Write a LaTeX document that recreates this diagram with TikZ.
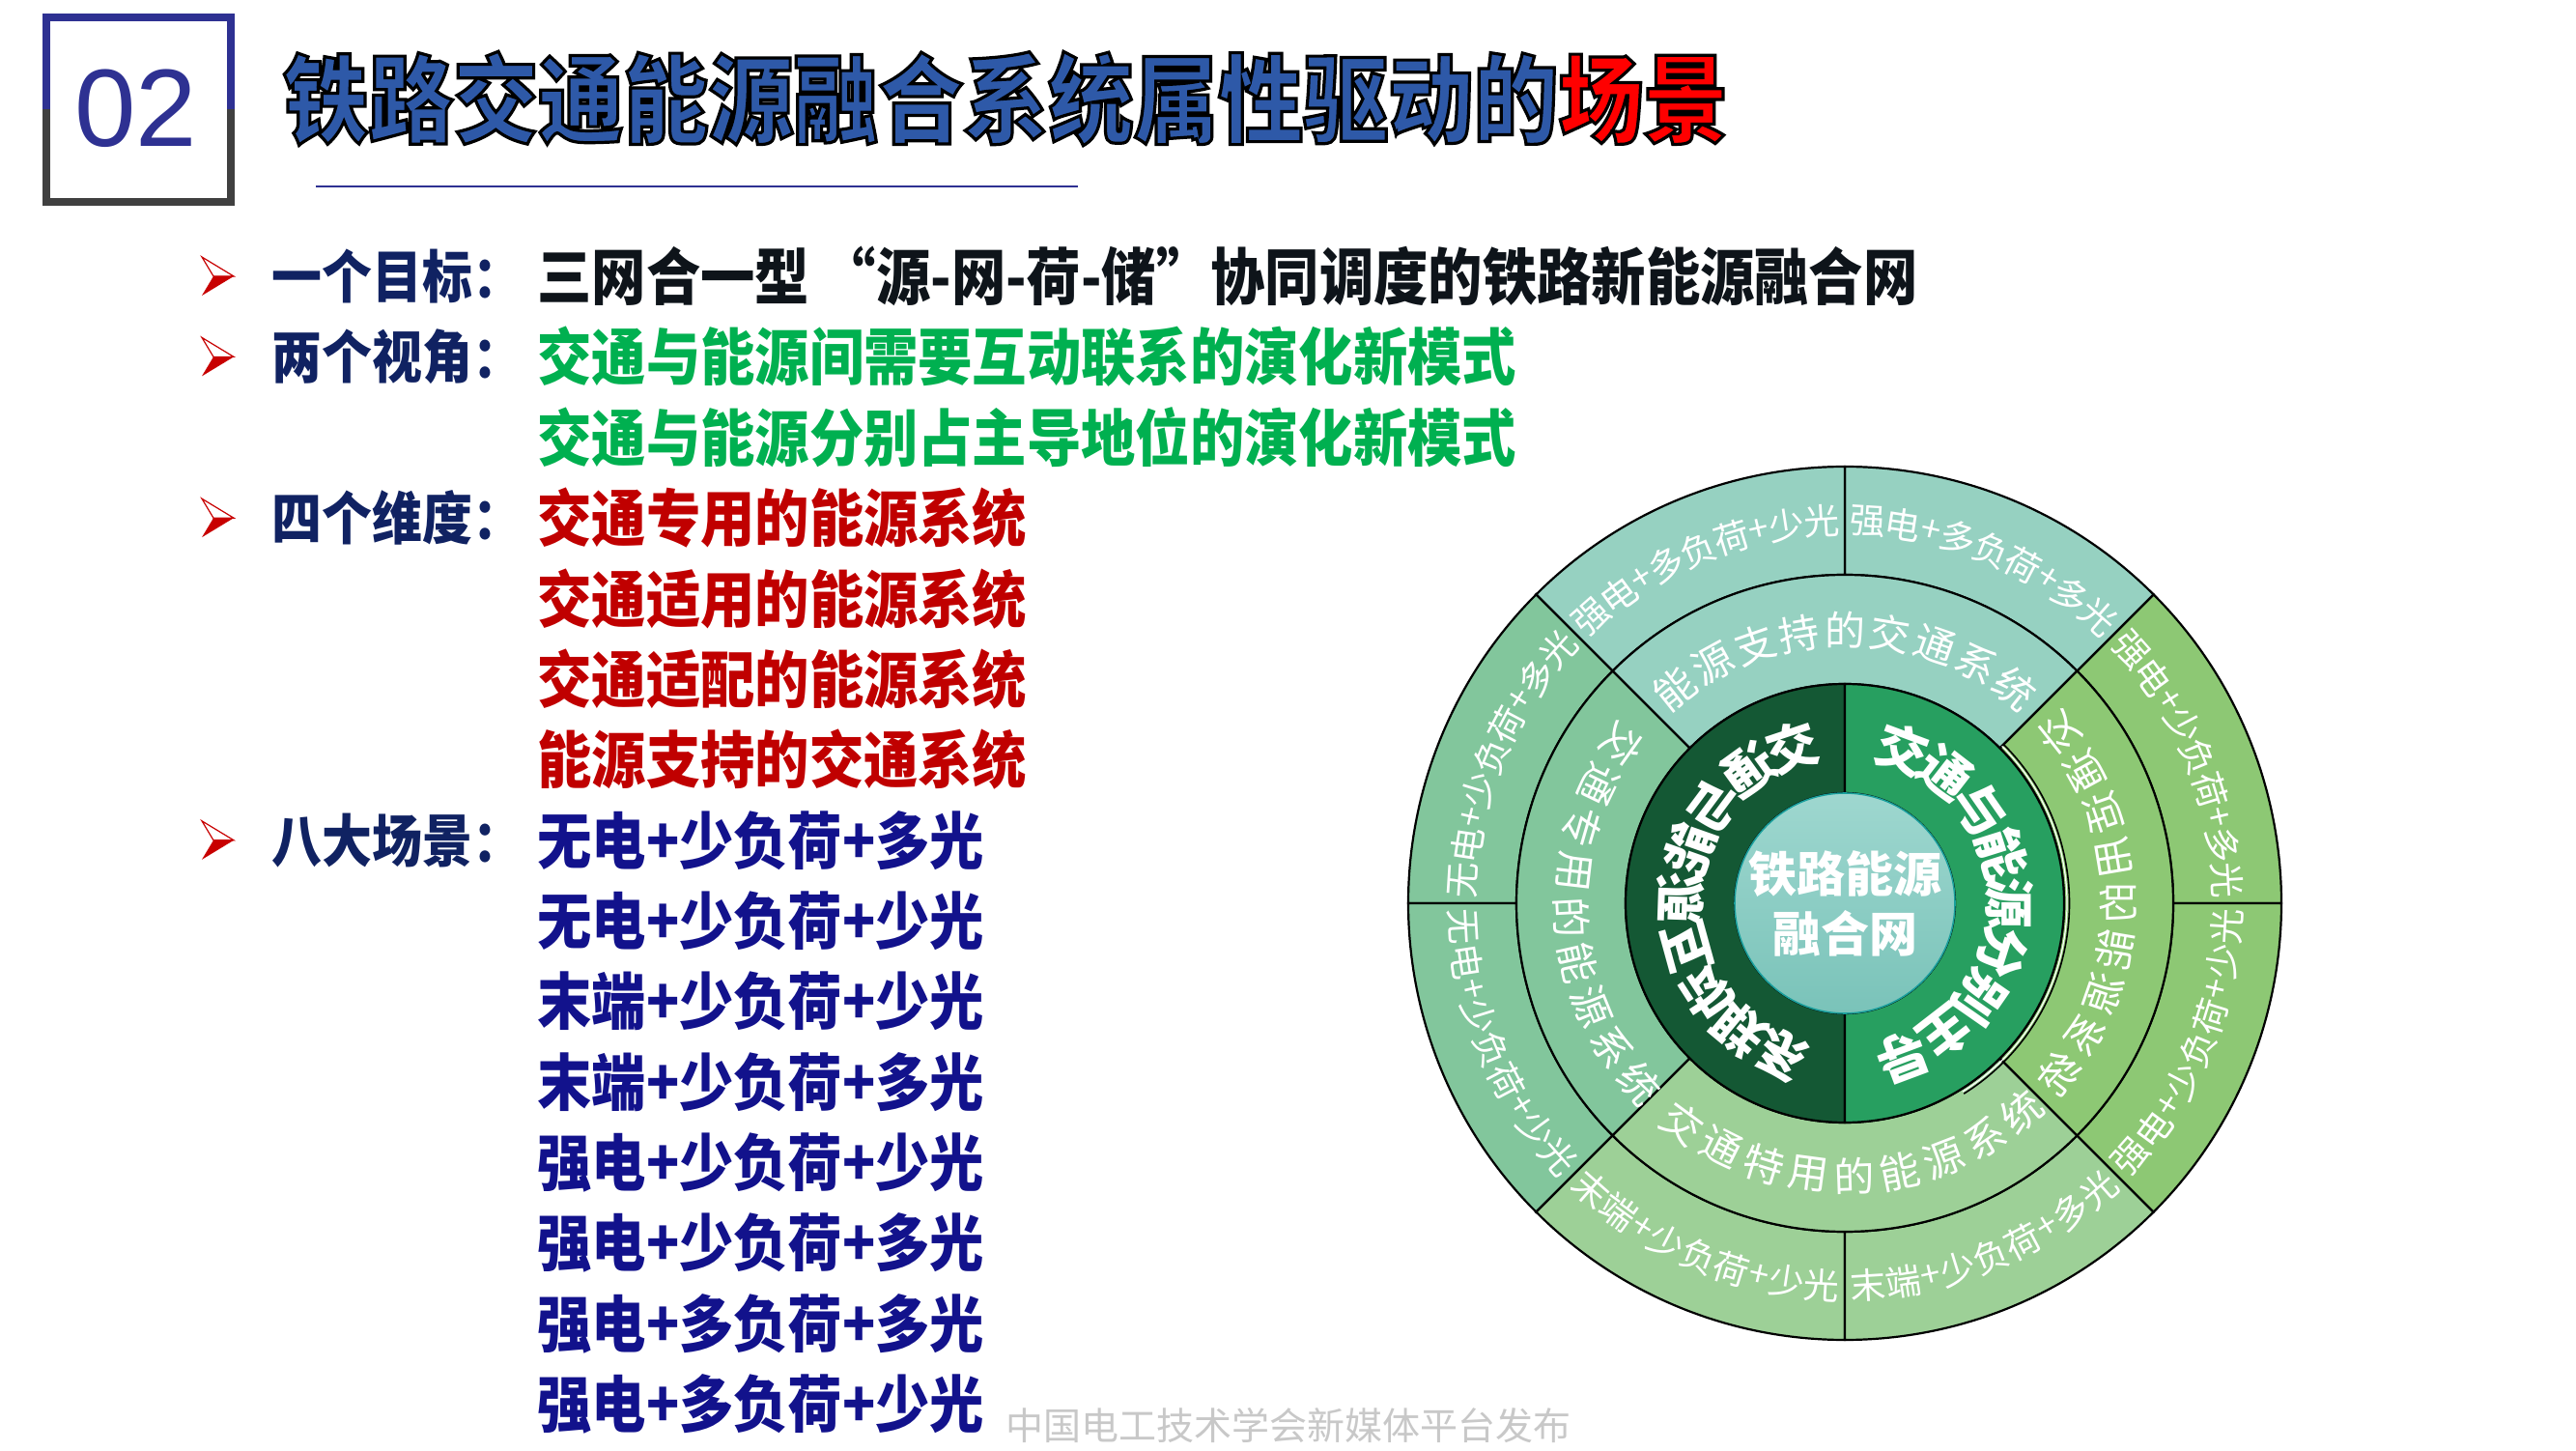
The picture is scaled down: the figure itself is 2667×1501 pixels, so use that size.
\documentclass[tikz,border=0pt]{standalone}
\usepackage{fontspec}
\setmainfont{Noto Sans CJK SC}
\newfontfamily\cjk{Noto Sans CJK SC}
\newfontfamily\cjknarrow[FakeStretch=0.88]{Noto Sans CJK SC}
\newfontfamily\numfont{Liberation Sans}
\usetikzlibrary{positioning}

\definecolor{boxnavy}{RGB}{46,49,146}
\definecolor{boxgray}{RGB}{64,64,64}
\definecolor{titleblue}{RGB}{46,89,168}
\definecolor{titlered}{RGB}{255,0,0}
\definecolor{labelnavy}{RGB}{16,34,98}
\definecolor{goalblack}{RGB}{14,20,26}
\definecolor{viewgreen}{RGB}{0,176,80}
\definecolor{dimred}{RGB}{192,0,0}
\definecolor{scenblue}{RGB}{18,18,140}
\definecolor{bulletred}{RGB}{200,0,0}
\definecolor{markgray}{RGB}{200,200,200}
\definecolor{ringteal}{RGB}{150,209,193}
\definecolor{ringleft}{RGB}{130,198,156}
\definecolor{ringbottom}{RGB}{157,208,151}
\definecolor{ringright}{RGB}{141,200,116}
\definecolor{darkleft}{RGB}{20,88,52}
\definecolor{darkright}{RGB}{39,159,96}
\definecolor{hubtop}{RGB}{158,215,207}
\definecolor{hubbottom}{RGB}{122,195,185}
\definecolor{hubrim}{RGB}{26,160,156}

% ring pieces
\newcommand\sector[5]{\filldraw[sectorline, fill=#1] (#4:#2) -- (#4:#3) arc[start angle=#4, end angle=#5, radius=#3] -- (#5:#2) arc[start angle=#5, end angle=#4, radius=#2] -- cycle;}

% characters set one by one along a circle (widths in picture units)
\newcount\arcn
\def\arcloop#1{\ifx#1\relax\else\arcact{#1}\expandafter\arcloop\fi}
\def\arcwidth#1{\if#1+\let\arcwd\arcplus\else\let\arcwd\arcstep\fi}
\def\arcmeasure#1{\arcwidth{#1}\pgfmathsetmacro\arcnext{\arcpos+\arcwd}\global\let\arcpos\arcnext}
\def\arcplace#1{\arcwidth{#1}%
  \pgfmathsetmacro\arcang{\arcmid-(\arcdir)*(\arcpos+0.5*\arcwd)/\arcR*57.29578}%
  \pgfmathsetmacro\arcrot{\arcang-90*(\arcdir)}%
  \global\advance\arcn by 1
  \node[arcchar, rotate=\arcrot] (glyph\the\arcn) at (\arcang:\arcR) {\arcfont#1};%
  \pgfmathsetmacro\arcnext{\arcpos+\arcwd}\global\let\arcpos\arcnext}
\newcommand\arctext[7]{% radius, middle angle, 1 = clockwise / -1 = anticlockwise, step, step of +, font, text
  \def\arcR{#1}\def\arcmid{#2}\def\arcdir{#3}\def\arcstep{#4}\def\arcplus{#5}\def\arcfont{#6}%
  \gdef\arcpos{0}\let\arcact\arcmeasure\arcloop#7\relax
  \pgfmathsetmacro\arcnext{-0.5*\arcpos}\global\let\arcpos\arcnext
  \let\arcact\arcplace\arcloop#7\relax}

\def\outerfont{\cjk\fontsize{18.5}{19}\selectfont}
\def\dimfont{\cjk\fontsize{21}{22}\selectfont}
\def\darkfont{\cjk\bfseries\fontsize{26.5}{27}\selectfont}

\begin{document}
\begin{tikzpicture}[x=0.5pt, y=0.5pt,
    itemlabel/.style={anchor=west, inner sep=0pt, text=labelnavy, font=\cjknarrow\bfseries\fontsize{29.5}{31}\selectfont},
    itemtext/.style={anchor=west, inner sep=0pt, font=\cjknarrow\bfseries\fontsize{32}{34}\selectfont},
    arcchar/.style={inner sep=0pt, text=white, transform shape},
    sectorline/.style={draw=black, line width=1.1pt}
]
\fill[white] (0,0) rectangle (2667,1501);
\useasboundingbox (0,0) rectangle (2667,1501);

% heading
\draw[boxnavy, line width=4pt] (48,1388) -- (48,1483) -- (239,1483) -- (239,1388);
\draw[boxgray, line width=4pt] (48,1388) -- (48,1292) -- (239,1292) -- (239,1388);
\node[inner sep=0pt, text=boxnavy, font=\numfont\fontsize{57}{60}\selectfont] (num) at (141,1389) {02};
\node[anchor=west, inner sep=0pt, font=\cjknarrow\bfseries\fontsize{50}{52}\selectfont] (title) at (293,1399)
  {\special{pdf:literal direct 1.6 w 2 Tr}{\color{titleblue}\special{pdf:literal direct 0 0 0 RG}铁路交通能源融合系统属性驱动的}{\color{titlered}\special{pdf:literal direct 0 0 0 RG}场景}\special{pdf:literal direct 0 Tr}};
\draw[boxnavy, line width=1pt] (327,1308) -- (1116,1308);

% bullets
\foreach \k in {0,1,3,7} {
  \filldraw[fill=white, draw=bulletred, line width=0.6pt] (209,1235-83.4*\k) -- (242,1215-83.4*\k) -- (221,1215-83.4*\k) -- cycle;
  \fill[bulletred] (221,1215-83.4*\k) -- (242,1215-83.4*\k) -- (209,1195-83.4*\k) -- cycle;
}

\node[itemlabel] (goal) at (281,1215) {一个目标：};
\node[itemtext, text=goalblack] (goaltext) at (556,1215) {三网合一型 “源-网-荷-储”协同调度的铁路新能源融合网};

\node[itemlabel] (view) at (281,1131.6) {两个视角：};
\node[itemtext, text=viewgreen] (view1) at (556,1131.6) {交通与能源间需要互动联系的演化新模式};
\node[itemtext, text=viewgreen] (view2) at (556,1048.2) {交通与能源分别占主导地位的演化新模式};

\node[itemlabel] (dim) at (281,964.8) {四个维度：};
\foreach \txt [count=\k from 3] in {交通专用的能源系统, 交通适用的能源系统, 交通适配的能源系统, 能源支持的交通系统}
  \node[itemtext, text=dimred] (dim\k) at (556,1215-83.4*\k) {\txt};

\node[itemlabel] (scen) at (281,631.2) {八大场景：};
\foreach \txt [count=\k from 7] in {无电+少负荷+多光, 无电+少负荷+少光, 末端+少负荷+少光, 末端+少负荷+多光,
    强电+少负荷+少光, 强电+少负荷+多光, 强电+多负荷+多光, 强电+多负荷+少光}
  \node[itemtext, text=scenblue] (scen\k) at (556,1215-83.4*\k) {\txt};

\node[anchor=west, inner sep=0pt, text=markgray, font=\cjk\fontsize{19.5}{20}\selectfont] (mark) at (1041,25) {中国电工技术学会新媒体平台发布};

% rings
\begin{scope}[shift={(1910,566)}]
\foreach \a/\col in {0/ringright, 45/ringteal, 90/ringteal, 135/ringleft, 180/ringleft, 225/ringbottom, 270/ringbottom, 315/ringright}
  {\sector{\col}{340}{452}{\a}{\a+45}}
\foreach \a/\col in {45/ringteal, 135/ringleft, 225/ringbottom, 315/ringright}
  {\sector{\col}{227}{340}{\a}{\a+90}}
\sector{darkleft}{114}{227}{90}{270}
\sector{darkright}{114}{227}{-90}{90}
\draw[white, line width=0.6pt] (45:230) arc[start angle=45, end angle=-58, radius=230];
\draw[black, line width=0.8pt] (45:232.5) arc[start angle=45, end angle=-58, radius=232.5];
\shadedraw[top color=hubtop, bottom color=hubbottom, draw=hubrim, line width=0.8pt] (0,0) circle[radius=114];
\node[inner sep=0pt, text=white, align=center, font=\cjk\bfseries\fontsize{25}{31}\selectfont] (hub) at (0,0) {铁路能源\\融合网};

\arctext{396}{112.5}{1}{36.5}{22}{\outerfont}{强电+多负荷+少光}
\arctext{396}{67.5}{1}{36.5}{22}{\outerfont}{强电+多负荷+多光}
\arctext{396}{22.5}{1}{36.5}{22}{\outerfont}{强电+少负荷+多光}
\arctext{396}{-22.5}{-1}{36.5}{22}{\outerfont}{强电+少负荷+少光}
\arctext{396}{292.5}{-1}{36.5}{22}{\outerfont}{末端+少负荷+多光}
\arctext{396}{247.5}{-1}{36.5}{22}{\outerfont}{末端+少负荷+少光}
\arctext{396}{202.5}{-1}{36.5}{22}{\outerfont}{无电+少负荷+少光}
\arctext{396}{157.5}{1}{36.5}{22}{\outerfont}{无电+少负荷+多光}

\arctext{283}{90}{1}{47.4}{30}{\dimfont}{能源支持的交通系统}
\arctext{283}{183}{-1}{47.4}{30}{\dimfont}{交通专用的能源系统}
\arctext{283}{272}{-1}{47.4}{30}{\dimfont}{交通特用的能源系统}
\arctext{170}{0}{1}{51.6}{30}{\darkfont}{交通与能源分别主导}
\begin{scope}[xscale=-1]
\arctext{283}{180}{-1}{47.4}{30}{\dimfont}{交通适用的能源系统}
\arctext{170}{2}{1}{51.6}{30}{\darkfont}{交通与能源互动联系}
\end{scope}
\end{scope}
\end{tikzpicture}
\end{document}
